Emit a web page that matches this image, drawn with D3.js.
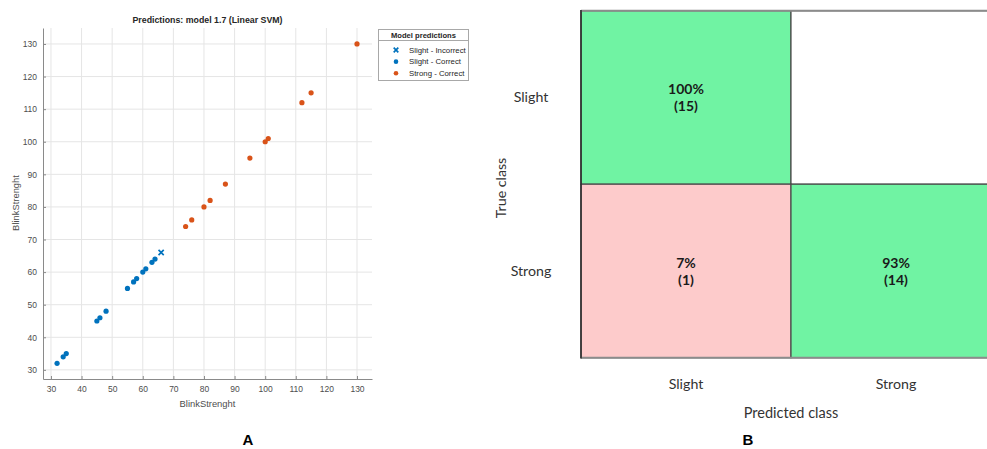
<!DOCTYPE html>
<html>
<head>
<meta charset="utf-8">
<script src="https://cdn.jsdelivr.net/npm/d3@7"></script>
<style>
  html, body { margin: 0; padding: 0; background: #fff; }
  svg { display: block; }
</style>
</head>
<body>
<svg id="chart" width="987" height="449"></svg>
<script>
// ---- Panel A: scatter of predictions ----
const slightCorrectX = [32, 34, 35, 45, 46, 48, 55, 57, 58, 60, 61, 63, 64];
const slightCorrectY = [32, 34, 35, 45, 46, 48, 55, 57, 58, 60, 61, 63, 64];
const slightIncorrectX = [66];
const slightIncorrectY = [66];
const strongCorrectX = [74, 76, 80, 82, 87, 95, 100, 101, 112, 115, 130];
const strongCorrectY = [74, 76, 80, 82, 87, 95, 100, 101, 112, 115, 130];
const axisTicks = [30, 40, 50, 60, 70, 80, 90, 100, 110, 120, 130];
const legendLabels = ["Slight - Incorrect", "Slight - Correct", "Strong - Correct"];

// ---- Panel B: confusion matrix ----
const trueClasses = ["Slight", "Strong"];
const predictedClasses = ["Slight", "Strong"];
const cmCounts = [[15, 0], [1, 14]];
const cmPercent = [[100, 0], [7, 93]];

const svg = d3.select("#chart");
const sans = "'Liberation Sans', Arial, sans-serif";

// ================= Scatter =================
const x = d3.scaleLinear().domain([27.4, 134.9]).range([43, 372]);
const y = d3.scaleLinear().domain([27.2, 134.9]).range([379, 28]);
const blue = "#0072BD", orange = "#D95319";

const gA = svg.append("g");

// grid
gA.append("g").selectAll("line").data(axisTicks).join("line")
  .attr("x1", d => x(d)).attr("x2", d => x(d))
  .attr("y1", y.range()[0]).attr("y2", y.range()[1])
  .attr("stroke", "#e5e5e5").attr("stroke-width", 1);
gA.append("g").selectAll("line").data(axisTicks).join("line")
  .attr("y1", d => y(d)).attr("y2", d => y(d))
  .attr("x1", x.range()[0]).attr("x2", x.range()[1])
  .attr("stroke", "#e5e5e5").attr("stroke-width", 1);

// axes (ticks pointing inward)
const xAxis = d3.axisBottom(x).tickValues(axisTicks).tickSizeInner(-3).tickSizeOuter(0).tickPadding(7);
const yAxis = d3.axisLeft(y).tickValues(axisTicks).tickSizeInner(-3).tickSizeOuter(0).tickPadding(6);
const gx = gA.append("g").attr("transform", `translate(0,${y.range()[0]})`).call(xAxis);
const gy = gA.append("g").attr("transform", `translate(${x.range()[0]},0)`).call(yAxis);
[gx, gy].forEach(g => {
  g.select(".domain").attr("stroke", "#8a8a8a");
  g.selectAll(".tick line").attr("stroke", "#8a8a8a");
  g.selectAll(".tick text").attr("fill", "#4d4d4d")
    .style("font-family", sans).style("font-size", "8.5px");
});

// points
function dots(xs, ys, color) {
  gA.append("g").selectAll("circle").data(xs.map((v, i) => [v, ys[i]])).join("circle")
    .attr("cx", d => x(d[0])).attr("cy", d => y(d[1])).attr("r", 2.6)
    .attr("fill", color);
}
dots(slightCorrectX, slightCorrectY, blue);
dots(strongCorrectX, strongCorrectY, orange);
function cross(g, cx, cy, s, color) {
  g.append("path")
    .attr("d", `M${cx - s},${cy - s}L${cx + s},${cy + s}M${cx - s},${cy + s}L${cx + s},${cy - s}`)
    .attr("stroke", color).attr("stroke-width", 1.7).attr("fill", "none");
}
slightIncorrectX.forEach((v, i) => cross(gA, x(v), y(slightIncorrectY[i]), 2.6, blue));

// title + labels
gA.append("text").attr("x", 207.5).attr("y", 23).attr("text-anchor", "middle")
  .style("font-family", sans).style("font-size", "8.8px").style("font-weight", "bold")
  .attr("fill", "#262626").text("Predictions: model 1.7 (Linear SVM)");
gA.append("text").attr("x", 207.5).attr("y", 407).attr("text-anchor", "middle")
  .style("font-family", sans).style("font-size", "9.4px").attr("fill", "#4d4d4d").text("BlinkStrenght");
gA.append("text").attr("transform", "translate(19,203) rotate(-90)").attr("text-anchor", "middle")
  .style("font-family", sans).style("font-size", "9.4px").attr("fill", "#4d4d4d").text("BlinkStrenght");

// legend
const lg = gA.append("g");
lg.append("rect").attr("x", 378.5).attr("y", 29.5).attr("width", 90).attr("height", 51)
  .attr("fill", "#fff").attr("stroke", "#a8a8a8").attr("stroke-width", 1);
lg.append("line").attr("x1", 378.5).attr("x2", 468.5).attr("y1", 40.5).attr("y2", 40.5)
  .attr("stroke", "#a8a8a8");
lg.append("text").attr("x", 423.5).attr("y", 37.5).attr("text-anchor", "middle")
  .style("font-family", sans).style("font-size", "7.6px").style("font-weight", "bold")
  .attr("fill", "#262626").text("Model predictions");
const ly = d3.scalePoint().domain(legendLabels).range([50, 73.3]);
lg.selectAll("text.item").data(legendLabels).join("text").attr("class", "item")
  .attr("x", 409).attr("y", d => ly(d) + 2.8)
  .style("font-family", sans).style("font-size", "7.8px").attr("fill", "#262626").text(d => d);
cross(lg, 396, ly(legendLabels[0]), 2.3, blue);
lg.append("circle").attr("cx", 396).attr("cy", ly(legendLabels[1])).attr("r", 2.3).attr("fill", blue);
lg.append("circle").attr("cx", 396).attr("cy", ly(legendLabels[2])).attr("r", 2.3).attr("fill", orange);

// panel letter
svg.append("text").attr("x", 248).attr("y", 445).attr("text-anchor", "middle")
  .style("font-family", sans).style("font-size", "15px").style("font-weight", "bold")
  .attr("fill", "#000").text("A");

// ================= Confusion matrix =================
const cmFont = "Lato, 'Open Sans', sans-serif";
const cx = d3.scaleBand().domain(predictedClasses).range([581, 1001]);
const cy = d3.scaleBand().domain(trueClasses).range([10.7, 357.7]);
const green = "#70F3A3", pink = "#FDCBCB";

const cells = [];
trueClasses.forEach((t, i) => predictedClasses.forEach((p, j) => {
  cells.push({ t, p, n: cmCounts[i][j], pct: cmPercent[i][j], diag: i === j });
}));

const gB = svg.append("g");
gB.selectAll("rect").data(cells).join("rect")
  .attr("x", d => cx(d.p)).attr("y", d => cy(d.t))
  .attr("width", cx.bandwidth()).attr("height", cy.bandwidth())
  .attr("fill", d => d.n === 0 ? "#fff" : (d.diag ? green : pink))
  .attr("stroke", "#4a4a4a").attr("stroke-width", 1.2);
// outer top / bottom borders are lighter and heavier
gB.append("line").attr("x1", 581).attr("x2", 1001).attr("y1", 10.7).attr("y2", 10.7)
  .attr("stroke", "#8c8c8c").attr("stroke-width", 2);
gB.append("line").attr("x1", 581).attr("x2", 1001).attr("y1", 357.7).attr("y2", 357.7)
  .attr("stroke", "#8c8c8c").attr("stroke-width", 2);
gB.append("line").attr("x1", 581).attr("x2", 581).attr("y1", 10).attr("y2", 358.5)
  .attr("stroke", "#2a2a2a").attr("stroke-width", 1.5);

const nz = cells.filter(d => d.n > 0);
const labels = gB.selectAll("text.cell").data(nz).join("text").attr("class", "cell")
  .attr("text-anchor", "middle")
  .style("font-family", cmFont).style("font-size", "14px").style("font-weight", "bold")
  .attr("fill", "#1a1a1a");
labels.append("tspan").attr("x", d => cx(d.p) + cx.bandwidth() / 2)
  .attr("y", d => cy(d.t) + cy.bandwidth() / 2 - 3).text(d => d.pct + "%");
labels.append("tspan").attr("x", d => cx(d.p) + cx.bandwidth() / 2)
  .attr("y", d => cy(d.t) + cy.bandwidth() / 2 + 14).text(d => "(" + d.n + ")");

// row and column labels
gB.selectAll("text.row").data(trueClasses).join("text").attr("class", "row")
  .attr("x", 531).attr("y", d => cy(d) + cy.bandwidth() / 2 + 5).attr("text-anchor", "middle")
  .style("font-family", cmFont).style("font-size", "14.2px").attr("fill", "#333").text(d => d);
gB.selectAll("text.col").data(predictedClasses).join("text").attr("class", "col")
  .attr("x", d => cx(d) + cx.bandwidth() / 2).attr("y", 389).attr("text-anchor", "middle")
  .style("font-family", cmFont).style("font-size", "14.2px").attr("fill", "#333").text(d => d);
gB.append("text").attr("x", 791).attr("y", 418).attr("text-anchor", "middle")
  .style("font-family", cmFont).style("font-size", "14.5px").attr("fill", "#333").text("Predicted class");
gB.append("text").attr("transform", "translate(506,188) rotate(-90)").attr("text-anchor", "middle")
  .style("font-family", cmFont).style("font-size", "14.2px").attr("fill", "#333").text("True class");

svg.append("text").attr("x", 748).attr("y", 445).attr("text-anchor", "middle")
  .style("font-family", sans).style("font-size", "15px").style("font-weight", "bold")
  .attr("fill", "#000").text("B");
</script>
</body>
</html>
